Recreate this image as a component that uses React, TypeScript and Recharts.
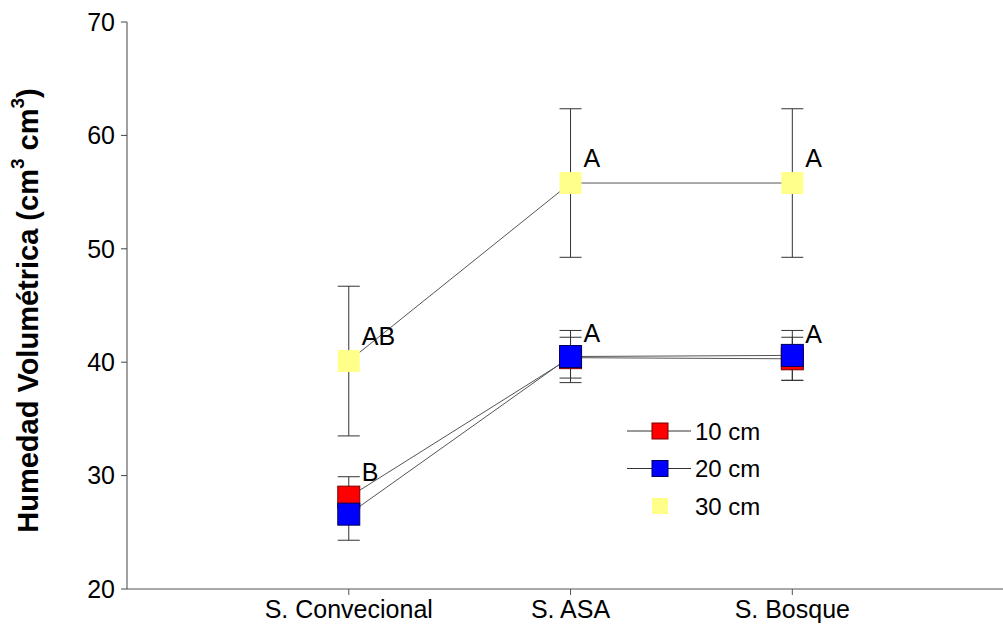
import { LineChart, Line, XAxis, YAxis, ErrorBar, LabelList, Legend } from "recharts"

const categories = ["S. Convecional", "S. ASA", "S. Bosque"]
const xPositions = [1, 2, 3]

const mean10 = [28.1, 40.4, 40.3]
const err10 = [1.8, 1.8, 1.9]
const letters10 = ["B", "A", "A"]

const mean20 = [26.6, 40.5, 40.6]
const err20 = [2.3, 2.3, 2.2]

const mean30 = [40.1, 55.8, 55.8]
const err30 = [6.6, 6.55, 6.55]
const letters30 = ["AB", "A", "A"]

const yTicks = [20, 30, 40, 50, 60, 70]

const data = xPositions.map((x, i) => ({
  x,
  v10: mean10[i],
  e10: err10[i],
  l10: letters10[i],
  v20: mean20[i],
  e20: err20[i],
  v30: mean30[i],
  e30: err30[i],
  l30: letters30[i],
}))

const FONT = "'Liberation Sans', Arial, sans-serif"

const series = [
  { key: "10 cm", fill: "#ff0000", stroke: "#7a0000", line: true },
  { key: "20 cm", fill: "#0000ff", stroke: "#00005a", line: true },
  { key: "30 cm", fill: "#ffff8a", stroke: "none", line: false },
]

function squareDot(fill: string, stroke: string, size: number) {
  return (props: any) => {
    const { cx, cy, index } = props
    if (cx == null || cy == null) return <g key={index} />
    return (
      <rect
        key={index}
        x={cx - size / 2}
        y={cy - size / 2}
        width={size}
        height={size}
        fill={fill}
        stroke={stroke}
        strokeWidth={1}
      />
    )
  }
}

const letterLabel = (props: any) => {
  const { x, y, value } = props
  return (
    <text x={x + 13} y={y - 25} dominantBaseline="central" fontSize={25} fontFamily={FONT} fill="#000">
      {value}
    </text>
  )
}

const yLabel = (props: any) => {
  const vb = props.viewBox || { y: 22, height: 567 }
  const cx = 28
  const cy = vb.y + vb.height / 2 + 5
  return (
    <text
      x={cx}
      y={cy}
      transform={`rotate(-90 ${cx} ${cy})`}
      textAnchor="middle"
      dominantBaseline="central"
      fontSize={29}
      fontWeight="bold"
      fontFamily={FONT}
      fill="#000"
    >
      Humedad Volumétrica (cm
      <tspan dy={-11} fontSize={19}>3</tspan>
      <tspan dy={11}> cm</tspan>
      <tspan dy={-11} fontSize={19}>3</tspan>
      <tspan dy={11}>)</tspan>
    </text>
  )
}

const legendContent = () => (
  <svg width={160} height={110} style={{ display: "block" }}>
    {series.map((s, i) => {
      const cy = 21 + i * 37.5
      return (
        <g key={s.key}>
          {s.line && <line x1={7} x2={71} y1={cy} y2={cy} stroke="#333" strokeWidth={1} />}
          <rect x={32} y={cy - 8} width={16} height={16} fill={s.fill} stroke={s.stroke} />
          <text x={75} y={cy} dominantBaseline="central" fontSize={24} fontFamily={FONT} fill="#000">
            {s.key}
          </text>
        </g>
      )
    })}
  </svg>
)

export default function App() {
  return (
    <div style={{ position: "absolute", left: 0, top: 0, width: 1003, height: 624, background: "#fff" }}>
      <LineChart width={1003} height={624} data={data} margin={{ top: 22, right: 0, bottom: 5, left: 0 }}>
        <XAxis
          type="number"
          dataKey="x"
          domain={[0, 3.95]}
          ticks={xPositions}
          tickFormatter={(v: number) => categories[v - 1] ?? ""}
          height={30}
          stroke="#555"
          tickSize={6}
          tickMargin={5}
          tick={{ fill: "#000", fontSize: 25, fontFamily: FONT }}
        />
        <YAxis
          type="number"
          domain={[20, 70]}
          ticks={yTicks}
          width={127}
          stroke="#444"
          tickSize={6}
          tickMargin={6}
          tick={{ fill: "#000", fontSize: 25, fontFamily: FONT }}
          label={{ content: yLabel }}
        />
        <Legend
          layout="vertical"
          align="center"
          verticalAlign="middle"
          content={legendContent}
          wrapperStyle={{ left: 620, top: 410, width: 160, height: 110 }}
        />
        <Line
          dataKey="v30"
          name="30 cm"
          stroke="#555"
          strokeWidth={1}
          dot={squareDot("#ffff8a", "none", 22)}
          activeDot={false}
          isAnimationActive={false}
        >
          <ErrorBar dataKey="e30" width={11} stroke="#333" strokeWidth={1} direction="y" />
          <LabelList dataKey="l30" content={letterLabel} />
        </Line>
        <Line
          dataKey="v10"
          name="10 cm"
          stroke="#555"
          strokeWidth={1}
          dot={squareDot("#ff0000", "#7a0000", 22)}
          activeDot={false}
          isAnimationActive={false}
        >
          <ErrorBar dataKey="e10" width={11} stroke="#333" strokeWidth={1} direction="y" />
          <LabelList dataKey="l10" content={letterLabel} />
        </Line>
        <Line
          dataKey="v20"
          name="20 cm"
          stroke="#555"
          strokeWidth={1}
          dot={squareDot("#0000ff", "#00005a", 22)}
          activeDot={false}
          isAnimationActive={false}
        >
          <ErrorBar dataKey="e20" width={11} stroke="#333" strokeWidth={1} direction="y" />
        </Line>
      </LineChart>
    </div>
  )
}
